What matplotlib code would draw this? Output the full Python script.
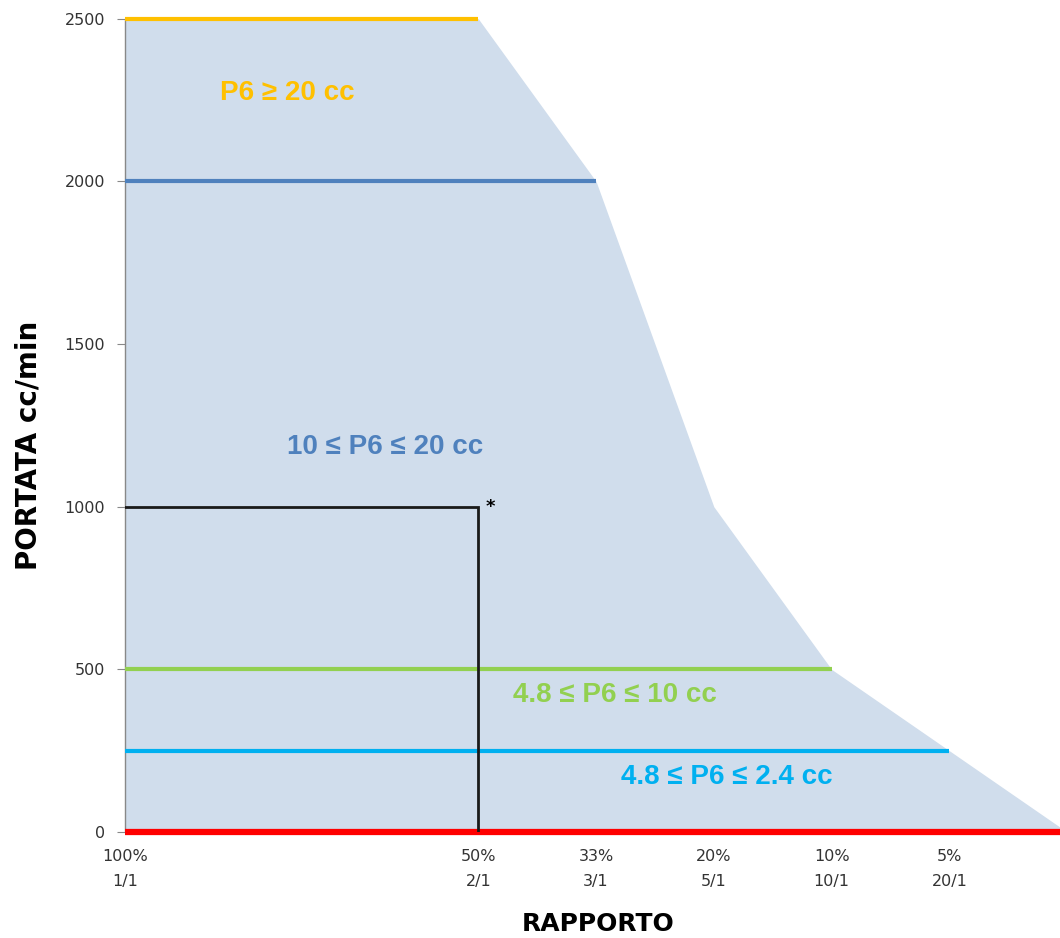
import matplotlib.pyplot as plt
import numpy as np

# categorie sull'asse x (posizioni 0..7, 100% -> 5%)
tick_pos = [0, 3, 4, 5, 6, 7]
tick_labels = ['100%\n1/1', '50%\n2/1', '33%\n3/1', '20%\n5/1', '10%\n10/1', '5%\n20/1']

# contorno dell'area ammessa
area_x = [0, 3, 4, 5, 6, 7, 8]
area_y = [2500, 2500, 2000, 1000, 500, 250, 0]

# linee orizzontali: livello, fine x, colore
levels = [2500, 2000, 500, 250]
level_end = [3, 4, 6, 7]
level_colors = ['#FFC000', '#4F81BD', '#92D050', '#00B0F0']

# etichette
labels = ['P6 ≥ 20 cc', '10 ≤ P6 ≤ 20 cc', '4.8 ≤ P6 ≤ 10 cc', '4.8 ≤ P6 ≤ 2.4 cc']
label_x = [1.38, 2.21, 4.16, 5.11]
label_y = [2272, 1184, 421, 169]

# punto di lavoro di esempio
work_x = [0, 3, 3]
work_y = [1000, 1000, 0]

fig = plt.figure(figsize=(10.6, 9.38), dpi=100)
ax = fig.add_axes([0.118, 0.113, 0.882, 0.867])

ax.fill_between(area_x, area_y, 0, color='#D0DDEC', lw=0, zorder=1)

for lv, xe, c in zip(levels, level_end, level_colors):
    ax.plot([0, xe], [lv, lv], color=c, lw=3, solid_capstyle='butt', zorder=3, clip_on=False)

ax.plot([0, 8], [0, 0], color='#FF0000', lw=4.5, solid_capstyle='butt', zorder=4, clip_on=False)
ax.plot(work_x, work_y, color='#1a1a1a', lw=2, zorder=5, solid_joinstyle='miter')
ax.text(3.06, 1000, '*', fontsize=13, fontweight='bold', va='center', ha='left', zorder=6)

for t, x, y, c in zip(labels, label_x, label_y, level_colors):
    ax.text(x, y, t, color=c, fontsize=20, fontweight='bold',
            family=['Liberation Sans', 'DejaVu Sans'],
            ha='center', va='center', zorder=6)

ax.set_xlim(0, 7.94)
ax.set_ylim(0, 2500)
ax.set_yticks(np.arange(0, 2501, 500))
ax.set_xticks(tick_pos)
ax.set_xticklabels(tick_labels, fontsize=11.5, color='#333333', linespacing=1.9)
ax.tick_params(axis='y', labelsize=11.5, labelcolor='#333333', length=5.8, color='#888888', pad=8.5)
ax.tick_params(axis='x', length=0, pad=12)

for s in ['top', 'right', 'bottom']:
    ax.spines[s].set_visible(False)
ax.spines['left'].set_color('#888888')
ax.spines['left'].set_linewidth(1)

ax.set_ylabel('PORTATA cc/min', fontsize=20, fontweight='bold')
ax.yaxis.set_label_coords(-0.088, 0.475)
ax.set_xlabel('RAPPORTO', fontsize=18, fontweight='bold')
ax.xaxis.set_label_coords(0.506, -0.098)

fig.savefig('out.png', dpi=100)
